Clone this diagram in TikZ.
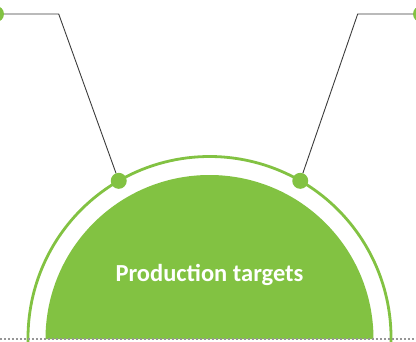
\documentclass[tikz,border=0pt]{standalone}
\usepackage{fontspec}
\setmainfont{Carlito}
\definecolor{leafgreen}{RGB}{130,194,66}
\definecolor{linegray}{RGB}{60,60,60}
\definecolor{dotgray}{RGB}{150,150,150}
\begin{document}
\begin{tikzpicture}[
                x=1pt, y=1pt,
                knob/.style={circle, fill=leafgreen, inner sep=0pt, minimum size=16pt},
                leader/.style={draw=linegray, line width=0.9pt},
                rim/.style={draw=leafgreen, line width=2.8pt},
                font=\fontsize{24.5}{29}\selectfont\bfseries
            ]
            \useasboundingbox (0,0) rectangle (416,341);
            \coordinate (c) at (209.5,3);

            % 半圆
            \fill[leafgreen] (45.5,2) -- (373.5,2) arc[start angle=0, end angle=180, radius=164] -- cycle;
            \draw[rim] ([shift={(-10:181.5)}]c) arc[start angle=-10, end angle=190, radius=181.5];
            \node[white, anchor=base] (title) at (209.5,59.3) {Production targets};

            % 底线
            \draw[dotgray, line width=1.7pt, dash pattern=on 1.7pt off 2.3pt] (0,2) -- (416,2);

            % 圆点
            \node[knob] (dotL) at ([shift={(120:181.5)}]c) {};
            \node[knob] (dotR) at ([shift={(60:181.5)}]c) {};
            \node[knob] (endL) at (-4,327) {};
            \node[knob] (endR) at (421,327) {};
            \coordinate (bendL) at (58.7,327);
            \coordinate (bendR) at (357.7,327);

            % 引线
            \draw[leader] (dotL) -- (bendL) -- (endL);
            \draw[leader] (dotR) -- (bendR) -- (endR);
        \end{tikzpicture}
\end{document}
